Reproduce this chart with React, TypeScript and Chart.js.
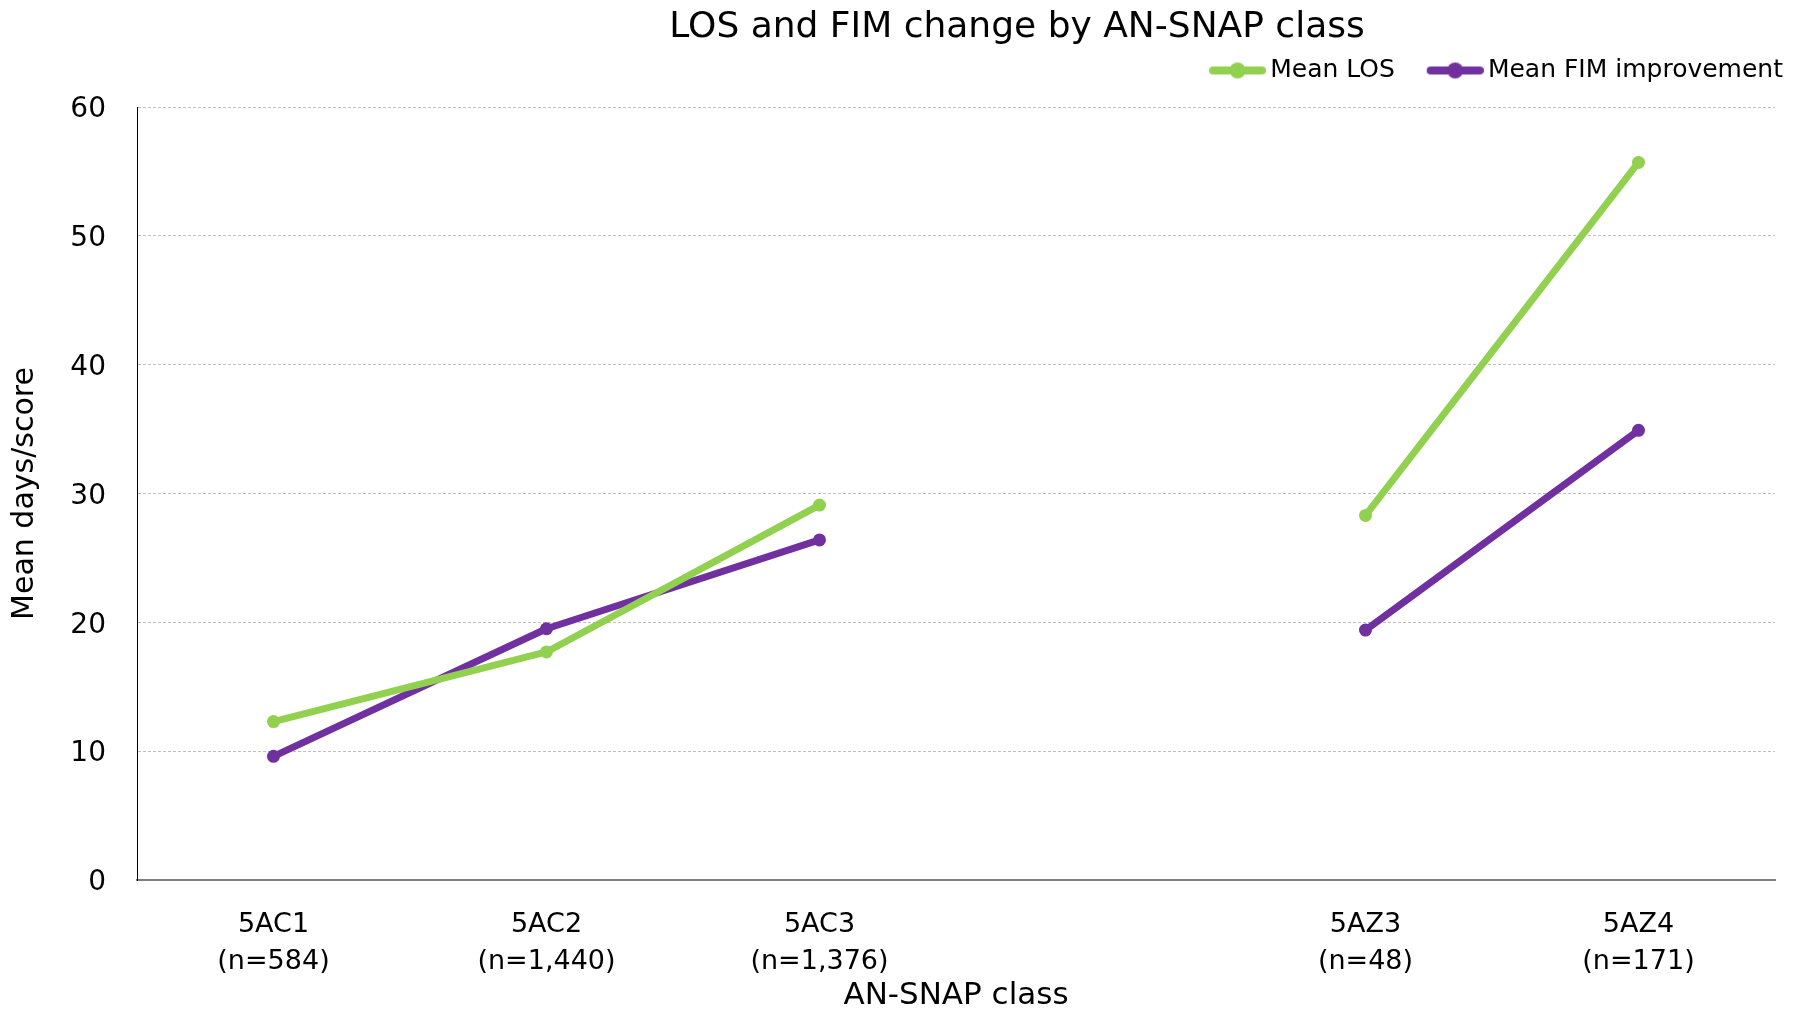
import React, { useEffect, useRef } from "react";
import { Chart, registerables } from "chart.js";

Chart.register(...registerables);

// ---- data ----
const categories: (string | string[])[] = [
  ["5AC1", "(n=584)"],
  ["5AC2", "(n=1,440)"],
  ["5AC3", "(n=1,376)"],
  "",
  ["5AZ3", "(n=48)"],
  ["5AZ4", "(n=171)"],
];
const meanLOS: (number | null)[] = [12.3, 17.7, 29.1, null, 28.3, 55.7];
const meanFIM: (number | null)[] = [9.6, 19.5, 26.4, null, 19.4, 34.9];
const seriesNames = ["Mean LOS", "Mean FIM improvement"];
const seriesColors = ["#92D050", "#7030A0"];
const yMin = 0;
const yMax = 60;
const yStep = 10;
const chartTitle = "LOS and FIM change by AN-SNAP class";
const xAxisTitle = "AN-SNAP class";
const yAxisTitle = "Mean days/score";

const FONT = "'DejaVu Sans', sans-serif";

function makeLegendMarker(color: string): HTMLCanvasElement {
  const c = document.createElement("canvas");
  c.width = 76;
  c.height = 20;
  const ctx = c.getContext("2d")!;
  ctx.strokeStyle = color;
  ctx.fillStyle = color;
  ctx.lineWidth = 8;
  ctx.lineCap = "round";
  ctx.beginPath();
  ctx.moveTo(23, 10);
  ctx.lineTo(72, 10);
  ctx.stroke();
  ctx.beginPath();
  ctx.arc(47.5, 10, 8, 0, Math.PI * 2);
  ctx.fill();
  return c;
}

function lineDataset(label: string, data: (number | null)[], color: string) {
  return {
    label,
    data,
    borderColor: color,
    backgroundColor: color,
    pointBackgroundColor: color,
    borderWidth: 7,
    pointRadius: 6.5,
    pointBorderWidth: 0,
    borderCapStyle: "round",
    borderJoinStyle: "round",
    spanGaps: false,
    tension: 0,
  };
}

export default function App() {
  const canvasRef = useRef<HTMLCanvasElement | null>(null);

  useEffect(() => {
    if (!canvasRef.current) return;
    const markers = seriesColors.map(makeLegendMarker);
    const chart = new Chart(canvasRef.current, {
      type: "line",
      data: {
        labels: categories,
        datasets: [
          lineDataset(seriesNames[0], meanLOS, seriesColors[0]),
          lineDataset(seriesNames[1], meanFIM, seriesColors[1]),
        ],
      },
      options: {
        responsive: false,
        animation: false,
        devicePixelRatio: 1,
        layout: { padding: 0 },
        plugins: {
          tooltip: { enabled: false },
          title: {
            display: true,
            text: chartTitle,
            color: "#000",
            font: { family: FONT, size: 36, weight: "normal", lineHeight: 0.7 },
            padding: { top: 15.4, bottom: -3.6 },
          },
          legend: {
            display: true,
            position: "top",
            align: "end",
            labels: {
              color: "#000",
              font: { family: FONT, size: 25 },
              usePointStyle: true,
              pointStyleWidth: 59.5,
              padding: 21,
              generateLabels: (ch: any) => {
                const items = Chart.defaults.plugins.legend.labels.generateLabels(ch);
                return items.map((it: any, i: number) => ({ ...it, pointStyle: markers[i] }));
              },
            },
          },
        },
        scales: {
          x: {
            type: "category",
            position: "bottom",
            offset: true,
            grid: { display: false, drawTicks: false },
            border: { display: true, color: "#808080", width: 2 },
            ticks: {
              color: "#000",
              font: { family: FONT, size: 27, lineHeight: 1.37 },
              padding: 26,
              maxRotation: 0,
              autoSkip: false,
            },
            title: {
              display: true,
              text: xAxisTitle,
              color: "#000",
              font: { family: FONT, size: 31, lineHeight: 1 },
              padding: { top: 0, bottom: -2 },
            },
            afterFit: (s: any) => {
              s.height = 129;
            },
          },
          xTop: {
            type: "category",
            position: "top",
            display: true,
            grid: { display: false, drawTicks: false },
            border: { display: false },
            ticks: { display: false },
            afterFit: (s: any) => {
              s.height = 14;
            },
          },
          y: {
            type: "linear",
            position: "left",
            min: yMin,
            max: yMax,
            grid: {
              display: true,
              drawTicks: false,
              color: "#bfbfbf",
              lineWidth: 1,
            },
            border: { display: true, color: "#000", width: 1, dash: [3, 2] },
            ticks: {
              stepSize: yStep,
              color: "#000",
              font: { family: FONT, size: 28 },
              padding: 31,
              labelOffset: 3,
            },
            title: {
              display: true,
              text: yAxisTitle,
              color: "#000",
              font: { family: FONT, size: 30, lineHeight: 1.2 },
              padding: { top: 7, bottom: 0 },
            },
            afterFit: (s: any) => {
              s.width = 137;
            },
          },
          yR: {
            type: "linear",
            position: "right",
            display: true,
            grid: { display: false, drawTicks: false },
            border: { display: false },
            ticks: { display: false },
            afterFit: (s: any) => {
              s.width = 29;
            },
          },
        },
      },
      plugins: [
        {
          id: "titleCentre",
          afterLayout: (ch: any) => {
            const tb = ch.titleBlock;
            if (tb) tb.left = 230;
          },
        },
      ],
    } as any);
    return () => chart.destroy();
  }, []);

  return (
    <div style={{ position: "absolute", left: 0, top: 0, width: 1804, height: 1009, background: "#fff" }}>
      <canvas ref={canvasRef} width={1804} height={1009} style={{ display: "block" }} />
    </div>
  );
}
